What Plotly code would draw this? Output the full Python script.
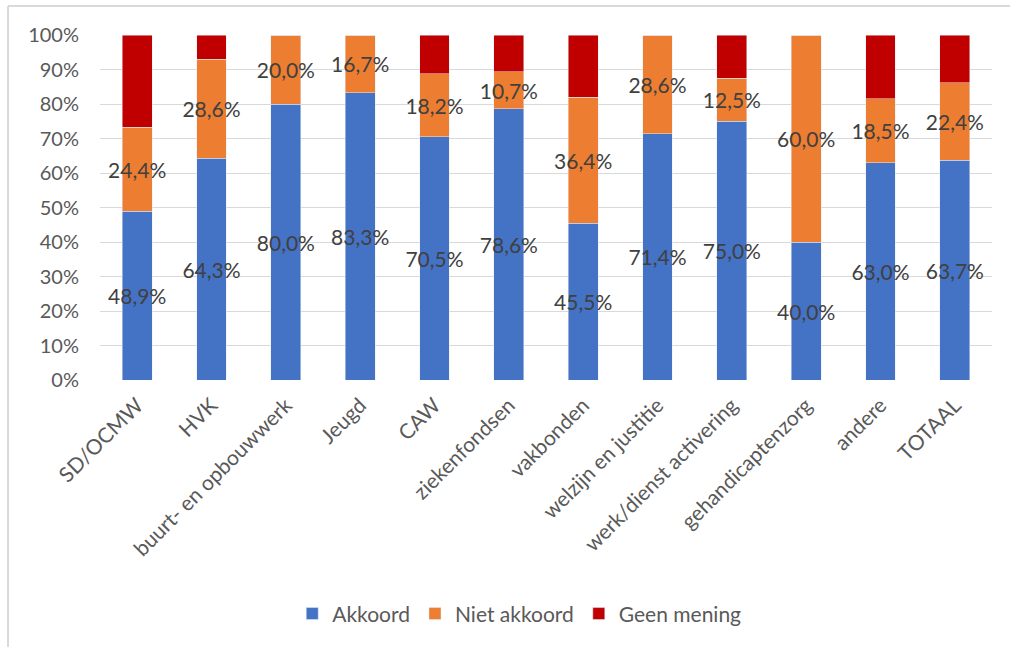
import plotly.graph_objects as go

categories = ["SD/OCMW", "HVK", "buurt- en opbouwwerk", "Jeugd", "CAW", "ziekenfondsen",
              "vakbonden", "welzijn en justitie", "werk/dienst activering",
              "gehandicaptenzorg", "andere", "TOTAAL"]
akkoord = [48.9, 64.3, 80.0, 83.3, 70.5, 78.6, 45.5, 71.4, 75.0, 40.0, 63.0, 63.7]
niet_akkoord = [24.4, 28.6, 20.0, 16.7, 18.2, 10.7, 36.4, 28.6, 12.5, 60.0, 18.5, 22.4]
geen_mening = [26.7, 7.1, 0.0, 0.0, 11.3, 10.7, 18.1, 0.0, 12.5, 0.0, 18.5, 13.9]
y_ticks = [0, 10, 20, 30, 40, 50, 60, 70, 80, 90, 100]


def fmt(v):
    return f"{v:.1f}".replace(".", ",") + "%"


FONT = "Lato, Open Sans, sans-serif"
label_font = dict(family=FONT, size=21, color="#404040")

fig = go.Figure()
fig.add_trace(go.Bar(x=categories, y=akkoord, name="Akkoord", marker_color="#4472C4",
                     text=[fmt(v) for v in akkoord], textposition="inside",
                     insidetextanchor="middle", textangle=0, constraintext="none",
                     textfont=label_font))
fig.add_trace(go.Bar(x=categories, y=niet_akkoord, name="Niet akkoord", marker_color="#ED7D31",
                     text=[fmt(v) for v in niet_akkoord], textposition="inside",
                     insidetextanchor="middle", textangle=0, constraintext="none",
                     textfont=label_font))
fig.add_trace(go.Bar(x=categories, y=geen_mening, name="Geen mening", marker_color="#C00000",
                     textposition="none"))

fig.update_layout(
    barmode="stack",
    bargap=0.6,
    width=1010, height=647,
    margin=dict(l=100, r=18, t=35, b=267),
    paper_bgcolor="white", plot_bgcolor="white",
    font=dict(family=FONT, size=20, color="#595959"),
    showlegend=True,
    legend=dict(orientation="h", x=0.47, xanchor="center", y=-0.678, yanchor="middle",
                font=dict(family=FONT, size=21, color="#595959"),
                itemwidth=30, traceorder="normal"),
    uniformtext=dict(mode=False),
)
fig.update_xaxes(tickangle=-45, showgrid=False, showline=False, ticks="",
                 ticklabelstandoff=8,
                 tickfont=dict(family=FONT, size=21, color="#595959"))
fig.update_yaxes(range=[0, 100], tickvals=y_ticks, ticktext=[f"{v}%" for v in y_ticks],
                 showgrid=True, gridcolor="#D9D9D9", gridwidth=1, zeroline=False,
                 showline=False, ticklabelstandoff=20,
                 tickfont=dict(family=FONT, size=20, color="#595959"))

# chart frame (left and top edges visible)
fig.add_shape(type="line", xref="paper", yref="paper", x0=-0.1031, x1=-0.1031, y0=1.084, y1=-0.8,
              line=dict(color="#D9D9D9", width=2))
fig.add_shape(type="line", xref="paper", yref="paper", x0=-0.1031, x1=1.05, y0=1.084, y1=1.084,
              line=dict(color="#D9D9D9", width=2))

fig.write_html("out.html")
